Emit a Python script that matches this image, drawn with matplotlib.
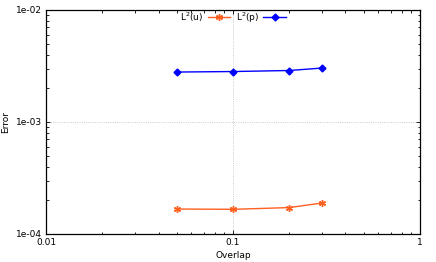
import matplotlib
matplotlib.use('Agg')
import matplotlib.pyplot as plt
from matplotlib.ticker import LogLocator, FixedFormatter, FixedLocator, NullFormatter

overlap = [0.05, 0.1, 0.2, 0.3]
err_u = [1.67e-4, 1.66e-4, 1.72e-4, 1.89e-4]
err_p = [2.79e-3, 2.82e-3, 2.88e-3, 3.03e-3]

fig = plt.figure(figsize=(4.36, 2.62), dpi=100)
ax = fig.add_axes([0.1055, 0.107, 0.8575, 0.855])

ax.plot(overlap, err_u, '-', color='#ff6020', lw=1, marker=(6, 2, 0),
        ms=5, mew=1, label='L$^2$(u)')
ax.plot(overlap, err_p, '-', color='#0000ff', lw=1, marker='D',
        ms=3.5, label='L$^2$(p)')

ax.set_xscale('log')
ax.set_yscale('log')
ax.set_xlim(0.01, 1)
ax.set_ylim(1e-4, 1e-2)

ax.xaxis.set_major_locator(FixedLocator([0.01, 0.1, 1]))
ax.xaxis.set_major_formatter(FixedFormatter(['0.01', '0.1', '1']))
ax.yaxis.set_major_locator(FixedLocator([1e-4, 1e-3, 1e-2]))
ax.yaxis.set_major_formatter(FixedFormatter(['1e-04', '1e-03', '1e-02']))
ax.xaxis.set_minor_locator(LogLocator(base=10, subs=range(2, 10)))
ax.yaxis.set_minor_locator(LogLocator(base=10, subs=range(2, 10)))
ax.xaxis.set_minor_formatter(NullFormatter())
ax.yaxis.set_minor_formatter(NullFormatter())

ax.tick_params(which='both', direction='in', top=True, right=True,
               labelsize=6.5, colors='black', pad=3)
ax.tick_params(which='major', length=3, width=0.6)
ax.tick_params(which='minor', length=1.8, width=0.6)
for s in ax.spines.values():
    s.set_linewidth(0.9)

ax.grid(True, which='major', color='#bbbbbb', ls=':', lw=0.6)

ax.set_xlabel('Overlap', fontsize=6.5, labelpad=3)
ax.set_ylabel('Error', fontsize=6.5, labelpad=4)

ax.legend(loc='upper center', bbox_to_anchor=(0.5, 1.035), ncol=2,
          frameon=False, fontsize=6.5, markerfirst=False, handlelength=2.5,
          columnspacing=0.6, handletextpad=0.5, numpoints=1)

fig.savefig('out.png', dpi=100)
